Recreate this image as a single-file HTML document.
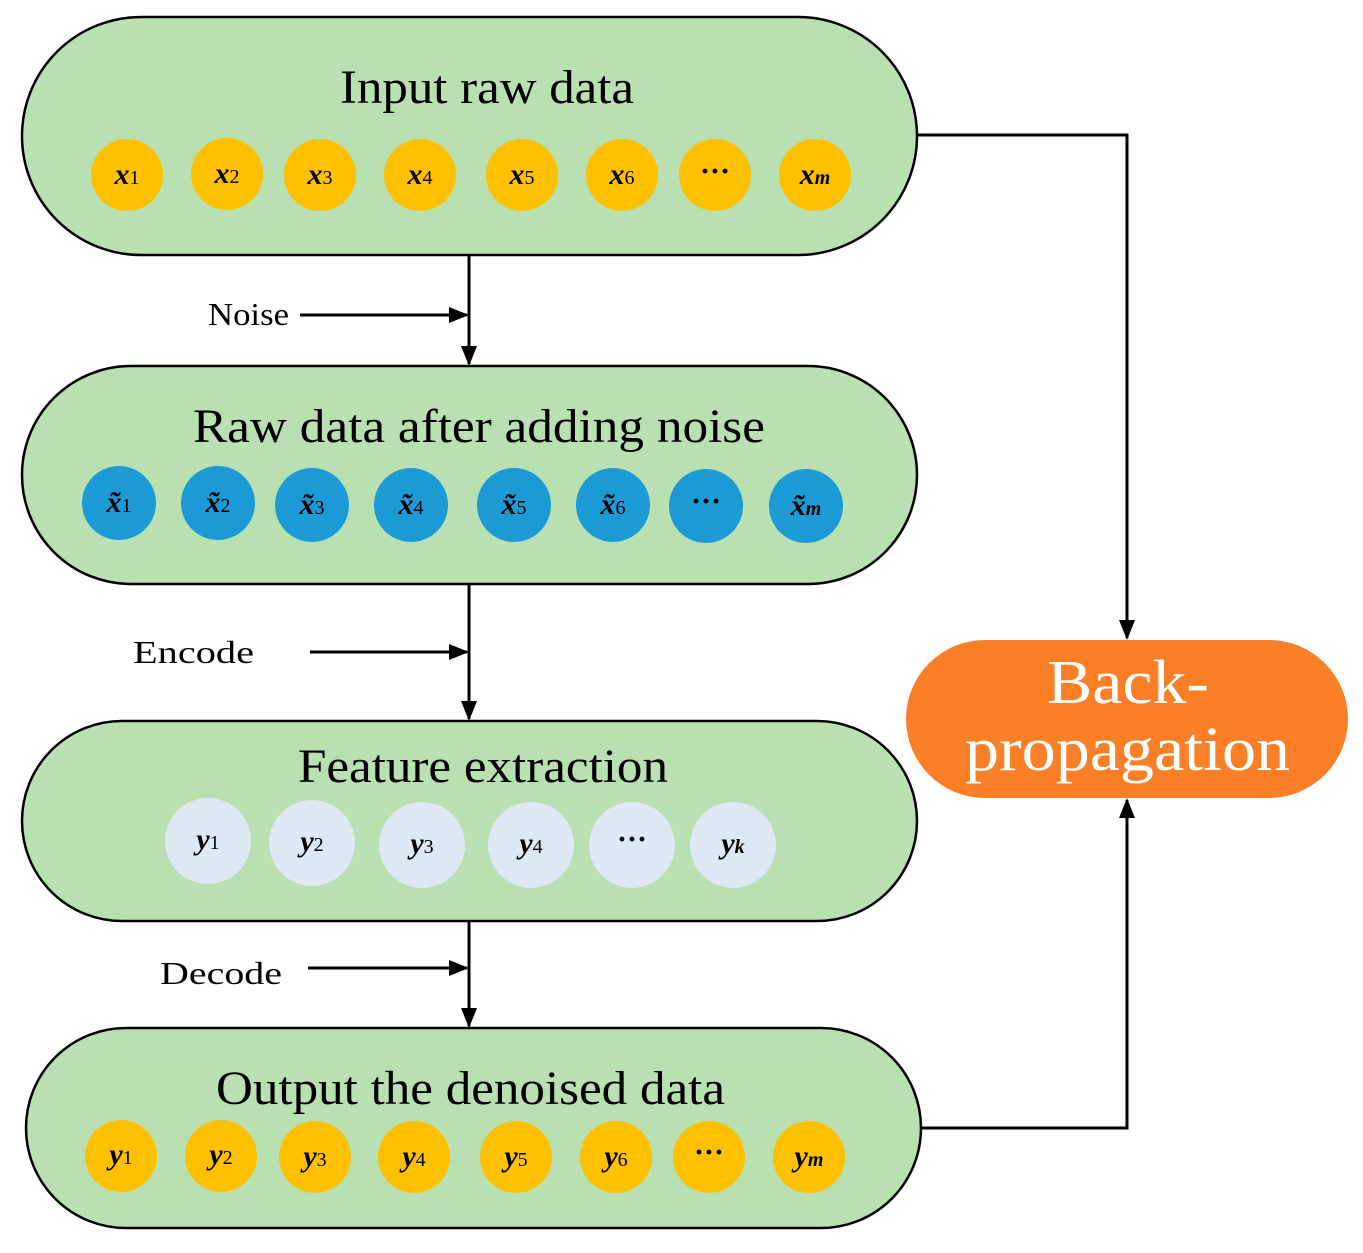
<!DOCTYPE html>
<html><head><meta charset="utf-8"><style>body{margin:0;background:#fff}svg{display:block}</style></head>
<body>
<svg width="1363" height="1253" viewBox="0 0 1363 1253" xmlns="http://www.w3.org/2000/svg" font-family="Liberation Serif, serif">
<defs>
<marker id="b" markerWidth="20" markerHeight="20" refX="18" refY="10" orient="auto" markerUnits="userSpaceOnUse" viewBox="0 0 20 20"><path d="M0,2 L20,10 L0,18z" fill="#000"/></marker></defs>
<g fill="#b9e0b1" stroke="#000" stroke-width="2.5">
<rect x="22" y="17" width="895" height="238" rx="119"/>
<rect x="22" y="366" width="895" height="218" rx="109"/>
<rect x="22" y="721" width="895" height="200" rx="100"/>
<rect x="26" y="1028" width="895" height="200" rx="100"/>
</g>
<rect x="906" y="640" width="442" height="158" rx="79" fill="#fb7f27"/>
<text x="1047" y="703" font-size="62" fill="#fff" textLength="162" lengthAdjust="spacingAndGlyphs">Back-</text>
<text x="965" y="770" font-size="62" fill="#fff" textLength="325" lengthAdjust="spacingAndGlyphs">propagation</text>
<g font-size="48">
<text x="340" y="103" textLength="294" lengthAdjust="spacingAndGlyphs">Input raw data</text>
<text x="193" y="442" textLength="572" lengthAdjust="spacingAndGlyphs">Raw data after adding noise</text>
<text x="298" y="782" textLength="370" lengthAdjust="spacingAndGlyphs">Feature extraction</text>
<text x="216" y="1104" textLength="509" lengthAdjust="spacingAndGlyphs">Output the denoised data</text>
</g>
<g font-size="32">
<text x="208" y="325" textLength="81" lengthAdjust="spacingAndGlyphs">Noise</text>
<text x="133" y="663" textLength="121" lengthAdjust="spacingAndGlyphs">Encode</text>
<text x="160" y="984" textLength="122" lengthAdjust="spacingAndGlyphs">Decode</text>
</g>
<g stroke="#000" stroke-width="3" fill="none">
<line x1="469" y1="255" x2="469" y2="364" marker-end="url(#b)"/>
<line x1="300" y1="315" x2="467" y2="315" marker-end="url(#b)"/>
<line x1="469" y1="584" x2="469" y2="719" marker-end="url(#b)"/>
<line x1="310" y1="652" x2="467" y2="652" marker-end="url(#b)"/>
<line x1="469" y1="921" x2="469" y2="1026" marker-end="url(#b)"/>
<line x1="308" y1="968" x2="467" y2="968" marker-end="url(#b)"/>
<polyline points="917,135 1127,135 1127,638" marker-end="url(#b)"/>
<polyline points="921,1128 1127,1128 1127,800" marker-end="url(#b)"/>
</g>
<g font-size="30" font-style="italic" font-weight="bold" text-anchor="middle">
<g fill="#ffc000">
<circle cx="127" cy="175" r="36"/><circle cx="227" cy="174" r="36"/><circle cx="320" cy="175" r="36"/><circle cx="420" cy="175" r="36"/><circle cx="522" cy="175" r="36"/><circle cx="622" cy="175" r="36"/><circle cx="715" cy="175" r="36"/><circle cx="815" cy="175" r="36"/>
<circle cx="121" cy="1156" r="36"/><circle cx="221" cy="1156" r="36"/><circle cx="315" cy="1157" r="36"/><circle cx="414" cy="1157" r="36"/><circle cx="516" cy="1157" r="36"/><circle cx="616" cy="1157" r="36"/><circle cx="709" cy="1157" r="36"/><circle cx="809" cy="1157" r="36"/>
</g>
<g fill="#1b9ad6">
<circle cx="119" cy="503" r="37"/><circle cx="218" cy="503" r="37"/><circle cx="312" cy="505" r="37"/><circle cx="411" cy="505" r="37"/><circle cx="514" cy="505" r="37"/><circle cx="613" cy="505" r="37"/><circle cx="706" cy="506" r="37"/><circle cx="806" cy="506" r="37"/>
</g>
<g fill="#dde9f5">
<circle cx="208" cy="841" r="43"/><circle cx="312" cy="843" r="43"/><circle cx="422" cy="845" r="43"/><circle cx="531" cy="845" r="43"/><circle cx="632" cy="845" r="43"/><circle cx="733" cy="845" r="43"/>
</g>
<g fill="#000">
<text x="127" y="184">x<tspan font-size="20" font-style="normal" font-weight="normal">1</tspan></text>
<text x="227" y="183">x<tspan font-size="20" font-style="normal" font-weight="normal">2</tspan></text>
<text x="320" y="184">x<tspan font-size="20" font-style="normal" font-weight="normal">3</tspan></text>
<text x="420" y="184">x<tspan font-size="20" font-style="normal" font-weight="normal">4</tspan></text>
<text x="522" y="184">x<tspan font-size="20" font-style="normal" font-weight="normal">5</tspan></text>
<text x="622" y="184">x<tspan font-size="20" font-style="normal" font-weight="normal">6</tspan></text>
<text x="715" y="181" font-style="normal">···</text>
<text x="815" y="184">x<tspan font-size="20">m</tspan></text>
<text x="119" y="512">x̃<tspan font-size="20" font-style="normal" font-weight="normal">1</tspan></text>
<text x="218" y="512">x̃<tspan font-size="20" font-style="normal" font-weight="normal">2</tspan></text>
<text x="312" y="514">x̃<tspan font-size="20" font-style="normal" font-weight="normal">3</tspan></text>
<text x="411" y="514">x̃<tspan font-size="20" font-style="normal" font-weight="normal">4</tspan></text>
<text x="514" y="514">x̃<tspan font-size="20" font-style="normal" font-weight="normal">5</tspan></text>
<text x="613" y="514">x̃<tspan font-size="20" font-style="normal" font-weight="normal">6</tspan></text>
<text x="706" y="511" font-style="normal">···</text>
<text x="806" y="515">x̃<tspan font-size="20">m</tspan></text>
<text x="208" y="849">y<tspan font-size="20" font-style="normal" font-weight="normal">1</tspan></text>
<text x="312" y="851">y<tspan font-size="20" font-style="normal" font-weight="normal">2</tspan></text>
<text x="422" y="853">y<tspan font-size="20" font-style="normal" font-weight="normal">3</tspan></text>
<text x="531" y="853">y<tspan font-size="20" font-style="normal" font-weight="normal">4</tspan></text>
<text x="632" y="849" font-style="normal">···</text>
<text x="733" y="853">y<tspan font-size="20">k</tspan></text>
<text x="121" y="1164">y<tspan font-size="20" font-style="normal" font-weight="normal">1</tspan></text>
<text x="221" y="1164">y<tspan font-size="20" font-style="normal" font-weight="normal">2</tspan></text>
<text x="315" y="1166">y<tspan font-size="20" font-style="normal" font-weight="normal">3</tspan></text>
<text x="414" y="1166">y<tspan font-size="20" font-style="normal" font-weight="normal">4</tspan></text>
<text x="516" y="1166">y<tspan font-size="20" font-style="normal" font-weight="normal">5</tspan></text>
<text x="616" y="1166">y<tspan font-size="20" font-style="normal" font-weight="normal">6</tspan></text>
<text x="709" y="1162" font-style="normal">···</text>
<text x="809" y="1166">y<tspan font-size="20">m</tspan></text>
</g>
</g>
</svg>
</body></html>
